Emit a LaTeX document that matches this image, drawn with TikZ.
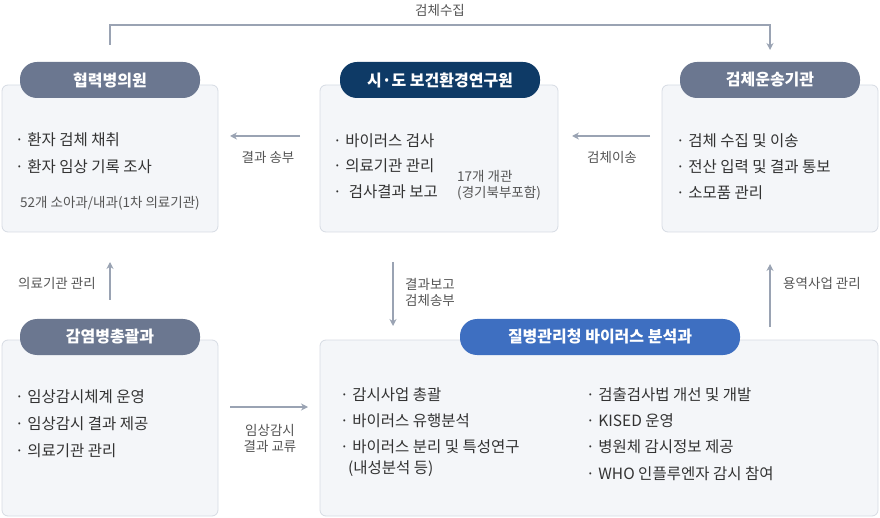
\documentclass[tikz,border=0pt]{standalone}
\usepackage{fontspec}
\setmainfont{Noto Sans CJK KR}
\usetikzlibrary{arrows.meta}
\definecolor{boxfill}{HTML}{F4F6F9}
\definecolor{boxline}{HTML}{D6DBE3}
\definecolor{hgray}{HTML}{6B7790}
\definecolor{hnavy}{HTML}{0E3A66}
\definecolor{hblue}{HTML}{3E6FC1}
\definecolor{arr}{HTML}{9AA3B3}
\definecolor{txt}{HTML}{333333}
\definecolor{ltxt}{HTML}{555555}
\tikzset{
 panel/.style={draw=boxline,fill=boxfill,rounded corners=6pt,line width=0.8pt},
 pill/.style={rounded corners=17pt,minimum height=36pt,text=white,font=\fontsize{16}{18}\selectfont\bfseries,inner xsep=14pt},
 item/.style={anchor=west,text=txt,font=\fontsize{15.5}{18}\selectfont,inner sep=0pt},
 small/.style={text=ltxt,font=\fontsize{13.5}{16}\selectfont,align=center,inner sep=0pt},
 conn/.style={draw=arr,line width=1.3pt,-{Stealth[length=7pt,width=7pt]}}
}
\begin{document}
\begin{tikzpicture}[x=1pt,y=-1pt]
\useasboundingbox (0,0) rectangle (880,518);
\draw[panel] (2,85) rectangle (218,232);
\draw[panel] (320,85) rectangle (558,232);
\draw[panel] (662,85) rectangle (878,232);
\draw[panel] (2,340) rectangle (218,516);
\draw[panel] (320,340) rectangle (878,516);
\node[pill,fill=hgray,minimum width=180pt] (h1) at (110,80) {협력병의원};
\node[pill,fill=hnavy,minimum width=200pt] (h2) at (440,80) {시·도 보건환경연구원};
\node[pill,fill=hgray,minimum width=180pt] (h3) at (770,80) {검체운송기관};
\node[pill,fill=hgray,minimum width=180pt] (h4) at (110,337) {감염병총괄과};
\node[pill,fill=hblue,minimum width=280pt] (h5) at (600,337) {질병관리청 바이러스 분석과};
% box1
\node[item] (a1) at (15,140) {· 환자 검체 채취};
\node[item] (a2) at (15,167) {· 환자 임상 기록 조사};
\node[item,font=\fontsize{13.5}{16}\selectfont,text=ltxt] (a3) at (20,203) {52개 소아과/내과(1차 의료기관)};
% box2
\node[item] (b1) at (333,141) {· 바이러스 검사};
\node[item] (b2) at (333,166) {· 의료기관 관리};
\node[item] (b3) at (333,192) {·~ 검사결과 보고};
\node[small,anchor=west,align=left] (b4) at (457,185) {17개 개관\\(경기북부포함)};
% box3
\node[item] (c1) at (676,141) {· 검체 수집 및 이송};
\node[item] (c2) at (676,167) {· 전산 입력 및 결과 통보};
\node[item] (c3) at (676,193) {· 소모품 관리};
% box4
\node[item] (d1) at (15,397) {· 임상감시체계 운영};
\node[item] (d2) at (15,424) {· 임상감시 결과 제공};
\node[item] (d3) at (15,451) {· 의료기관 관리};
% box5
\node[item] (e1) at (340,395) {· 감시사업 총괄};
\node[item] (e2) at (340,421) {· 바이러스 유행분석};
\node[item] (e3) at (340,447) {· 바이러스 분리 및 특성연구};
\node[item] (e4) at (348,469) {(내성분석 등)};
\node[item] (f1) at (586,395) {· 검출검사법 개선 및 개발};
\node[item] (f2) at (586,421) {· KISED 운영};
\node[item] (f3) at (586,447) {· 병원체 감시정보 제공};
\node[item] (f4) at (586,474) {· WHO 인플루엔자 감시 참여};
% connectors
\coordinate (t1) at (110,45); \coordinate (t2) at (770,50);
\draw[conn] (t1) -- (110,25) -- (770,25) -- (t2);
\node[small] (lt) at (440,10) {검체수집};
\coordinate (p1) at (300,136); \coordinate (p2) at (230,136);
\draw[conn] (p1) -- (p2);
\node[small] (l1) at (268,157) {결과 송부};
\coordinate (q1) at (650,136); \coordinate (q2) at (572,136);
\draw[conn] (q1) -- (q2);
\node[small] (l2) at (612,157) {검체이송};
\coordinate (r1) at (110,300); \coordinate (r2) at (110,262);
\draw[conn] (r1) -- (r2);
\node[small] (l3) at (57,283) {의료기관 관리};
\coordinate (s1) at (393,262); \coordinate (s2) at (393,326);
\draw[conn] (s1) -- (s2);
\node[small] (l4) at (430,292) {결과보고\\검체송부};
\coordinate (u1) at (770,327); \coordinate (u2) at (770,264);
\draw[conn] (u1) -- (u2);
\node[small] (l5) at (822,283) {용역사업 관리};
\coordinate (v1) at (230,407); \coordinate (v2) at (308,407);
\draw[conn] (v1) -- (v2);
\node[small] (l6) at (270,438) {임상감시\\결과 교류};
\end{tikzpicture}
\end{document}
